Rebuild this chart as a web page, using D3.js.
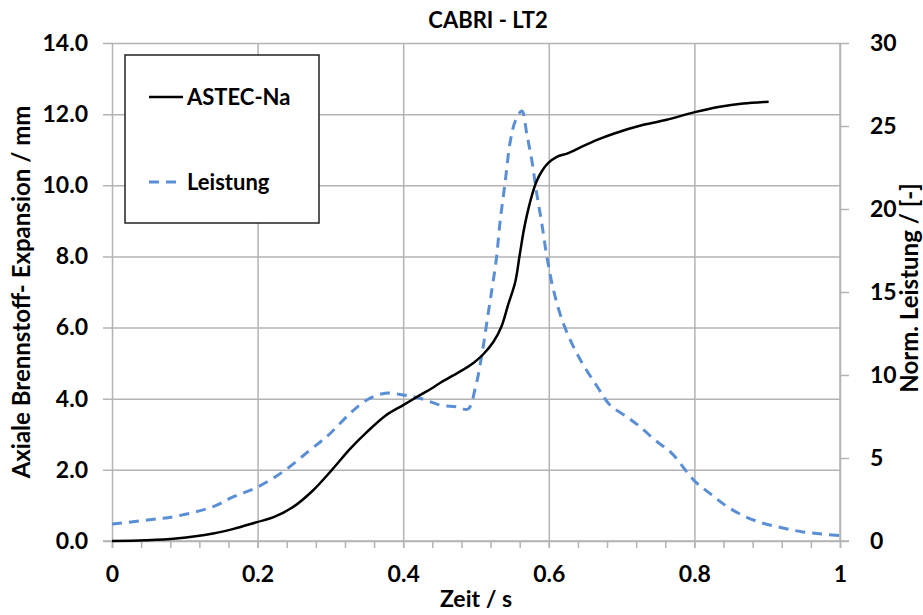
<!DOCTYPE html>
<html>
<head>
<meta charset="utf-8">
<title>CABRI - LT2</title>
<script src="https://cdn.jsdelivr.net/npm/d3@7"></script>
<style>
  body { margin: 0; background: #fff; }
  text { font-family: Lato, "Open Sans", sans-serif; font-weight: bold; fill: #000; }
</style>
</head>
<body>
<div id="chart"></div>
<script>
// ASTEC-Na: axial fuel expansion (mm) over time (s)
var timeAstec = [0, 0.046, 0.088, 0.139, 0.167, 0.199, 0.222, 0.249, 0.276, 0.303, 0.327, 0.350, 0.376, 0.400, 0.423, 0.440, 0.451, 0.476, 0.496, 0.510, 0.524, 0.535, 0.544, 0.554, 0.560, 0.567, 0.577, 0.583, 0.590, 0.599, 0.611, 0.625, 0.634, 0.647, 0.668, 0.689, 0.730, 0.762, 0.799, 0.835, 0.867, 0.902];
var astec = [0, 0.02, 0.07, 0.21, 0.34, 0.53, 0.67, 0.96, 1.42, 2.02, 2.59, 3.06, 3.53, 3.82, 4.10, 4.30, 4.45, 4.74, 5.00, 5.25, 5.60, 6.03, 6.63, 7.29, 8.04, 8.88, 9.73, 10.10, 10.38, 10.62, 10.80, 10.89, 10.97, 11.10, 11.29, 11.45, 11.70, 11.84, 12.05, 12.21, 12.30, 12.35];

// normalised power (right axis)
var timeLeistung = [0, 0.057, 0.089, 0.139, 0.167, 0.199, 0.235, 0.272, 0.300, 0.327, 0.350, 0.375, 0.400, 0.423, 0.451, 0.473, 0.489, 0.499, 0.508, 0.515, 0.522, 0.528, 0.533, 0.540, 0.547, 0.554, 0.563, 0.570, 0.577, 0.583, 0.590, 0.597, 0.606, 0.620, 0.641, 0.668, 0.684, 0.707, 0.725, 0.746, 0.769, 0.799, 0.824, 0.844, 0.867, 0.892, 0.920, 0.947, 0.975, 1.0];
var leistung = [1.02, 1.31, 1.50, 2.07, 2.67, 3.23, 4.18, 5.48, 6.49, 7.69, 8.49, 8.90, 8.80, 8.60, 8.19, 8.09, 7.95, 9.2, 11.2, 13.2, 15.2, 17.0, 19.2, 21.6, 24.05, 25.3, 25.9, 24.46, 22.85, 21.04, 19.23, 17.23, 15.2, 13.1, 11.1, 9.2, 8.19, 7.49, 6.89, 6.08, 5.28, 3.67, 2.77, 2.10, 1.53, 1.10, 0.80, 0.56, 0.42, 0.32];

var xTicks = [0, 0.2, 0.4, 0.6, 0.8, 1];
var xMinorTicks = d3.range(0, 1.0001, 0.04);
var yLeftTicks = [0, 2, 4, 6, 8, 10, 12, 14];
var yRightTicks = [0, 5, 10, 15, 20, 25, 30];
var seriesNames = ["ASTEC-Na", "Leistung"];

var width = 923, height = 615;
var plotLeft = 112, plotRight = 840, plotTop = 43, plotBottom = 541;
var gridColor = "#b3b3b3";
var blue = "#5a8fd6";

var svg = d3.select("#chart").append("svg")
  .attr("width", width)
  .attr("height", height);

var x = d3.scaleLinear().domain([0, 1]).range([plotLeft, plotRight]);
var yL = d3.scaleLinear().domain([0, 14]).range([plotBottom, plotTop]);
var yR = d3.scaleLinear().domain([0, 30]).range([plotBottom, plotTop]);

// horizontal gridlines + left ticks/labels
var gl = svg.append("g")
  .attr("transform", "translate(" + plotLeft + ",0)")
  .call(d3.axisLeft(yL).tickValues(yLeftTicks).tickFormat(d3.format(".1f")).tickSize(9).tickPadding(15));
gl.select(".domain").remove();
gl.selectAll(".tick line").attr("x1", plotRight - plotLeft).attr("x2", -9)
  .attr("stroke", gridColor).attr("stroke-width", 1.5);
gl.selectAll(".tick text").style("font-size", "23px");

// vertical gridlines + bottom labels
var gx = svg.append("g")
  .attr("transform", "translate(0," + plotBottom + ")")
  .call(d3.axisBottom(x).tickValues(xTicks).tickFormat(d3.format("")).tickSize(7).tickPadding(18));
gx.select(".domain").remove();
gx.selectAll(".tick line").attr("y1", plotTop - plotBottom).attr("y2", 7)
  .attr("stroke", gridColor).attr("stroke-width", 1.5);
gx.selectAll(".tick text").style("font-size", "23px");

// minor ticks on the x axis
var gm = svg.append("g")
  .attr("transform", "translate(0," + plotBottom + ")")
  .call(d3.axisBottom(x).tickValues(xMinorTicks).tickFormat("").tickSize(7));
gm.select(".domain").attr("d", "M" + (plotLeft - 9) + ",0H" + (plotRight + 9))
  .attr("stroke", gridColor).attr("stroke-width", 1.5);
gm.selectAll(".tick line").attr("stroke", gridColor).attr("stroke-width", 1.5);

// right axis
var gr = svg.append("g")
  .attr("transform", "translate(" + plotRight + ",0)")
  .call(d3.axisRight(yR).tickValues(yRightTicks).tickSize(9).tickPadding(21));
gr.select(".domain").attr("d", "M0," + plotTop + "V" + plotBottom)
  .attr("stroke", gridColor).attr("stroke-width", 1.5);
gr.selectAll(".tick line").attr("stroke", gridColor).attr("stroke-width", 1.5);
gr.selectAll(".tick text").style("font-size", "23px");

// lines
var lineL = d3.line()
  .x(function(d) { return x(d[0]); })
  .y(function(d) { return yL(d[1]); })
  .curve(d3.curveCatmullRom.alpha(0.5));
var lineR = d3.line()
  .x(function(d) { return x(d[0]); })
  .y(function(d) { return yR(d[1]); })
  .curve(d3.curveCatmullRom.alpha(0.5));

svg.append("path")
  .datum(d3.zip(timeLeistung, leistung))
  .attr("d", lineR)
  .attr("fill", "none")
  .attr("stroke", blue)
  .attr("stroke-width", 3)
  .attr("stroke-dasharray", "10,7");

svg.append("path")
  .datum(d3.zip(timeAstec, astec))
  .attr("d", lineL)
  .attr("fill", "none")
  .attr("stroke", "#000")
  .attr("stroke-width", 2.5);

// title and axis titles
svg.append("text")
  .attr("x", 488).attr("y", 28)
  .attr("text-anchor", "middle")
  .style("font-size", "22px")
  .text("CABRI - LT2");

svg.append("text")
  .attr("x", 476).attr("y", 607)
  .attr("text-anchor", "middle")
  .style("font-size", "23px")
  .text("Zeit / s");

svg.append("text")
  .attr("transform", "translate(30,292) rotate(-90)")
  .attr("text-anchor", "middle")
  .style("font-size", "24px")
  .text("Axiale Brennstoff- Expansion / mm");

svg.append("text")
  .attr("transform", "translate(918,288) rotate(-90)")
  .attr("text-anchor", "middle")
  .style("font-size", "24px")
  .text("Norm. Leistung / [-]");

// legend
var lg = svg.append("g");
lg.append("rect")
  .attr("x", 125).attr("y", 55).attr("width", 194).attr("height", 168)
  .attr("fill", "#fff").attr("stroke", "#222").attr("stroke-width", 1.5);
lg.append("line")
  .attr("x1", 149).attr("x2", 183).attr("y1", 97).attr("y2", 97)
  .attr("stroke", "#000").attr("stroke-width", 2.5);
lg.append("line")
  .attr("x1", 149).attr("x2", 183).attr("y1", 182).attr("y2", 182)
  .attr("stroke", blue).attr("stroke-width", 3).attr("stroke-dasharray", "10,7");
lg.selectAll("text.leg").data(seriesNames).enter().append("text")
  .attr("class", "leg")
  .attr("x", 187)
  .attr("y", function(d, i) { return i === 0 ? 105 : 190; })
  .style("font-size", "22px")
  .text(function(d) { return d; });
</script>
</body>
</html>
